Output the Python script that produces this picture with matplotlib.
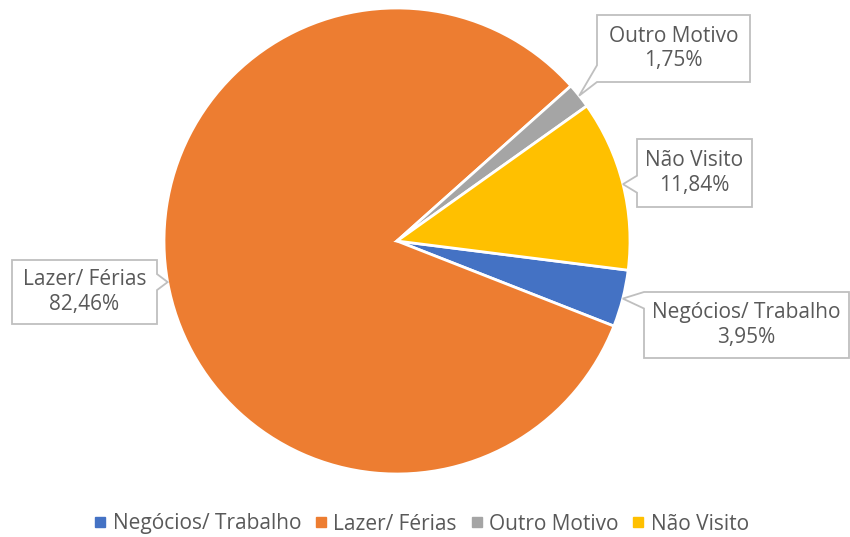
import matplotlib.pyplot as plt
import numpy as np
from matplotlib.patches import Polygon

plt.rcParams['font.family'] = ['Open Sans', 'DejaVu Sans']

categories = ["Negócios/ Trabalho", "Lazer/ Férias", "Outro Motivo", "Não Visito"]
shares = [3.95, 82.46, 1.75, 11.84]
colors = ["#4472C4", "#ED7D31", "#A5A5A5", "#FFC000"]
# callout boxes in pixels (x0, y0, x1, y1), y measured from the top
boxes = [(644, 292, 849, 358), (12, 260, 157, 324), (597, 15, 750, 82), (637, 139, 752, 207)]

W, H = 850, 537
fig = plt.figure(figsize=(W / 100, H / 100), dpi=100)
cx, cy, r = 397, 241, 233
ax = fig.add_axes([(cx - r) / W, (H - cy - r) / H, 2 * r / W, 2 * r / H])
start = -7.2
wedges, _ = ax.pie(shares, colors=colors, startangle=start, counterclock=False,
                   radius=1, wedgeprops=dict(edgecolor="white", linewidth=2))
ax.set_xlim(-1, 1)
ax.set_ylim(-1, 1)
ax.set_aspect("equal")
ax.axis("off")


def callout(box, tip, label):
    x0, y0, x1, y1 = box
    tx, ty = tip
    if tx < x0:
        side = "left"
    elif tx > x1:
        side = "right"
    elif ty > y1:
        side = "bottom"
    else:
        side = "top"
    if side in ("left", "right"):
        hw = 0.125 * (y1 - y0)
        c = min(max(ty, y0 + hw), y1 - hw)
        if side == "left":
            pts = [(x0, y0), (x1, y0), (x1, y1), (x0, y1), (x0, c + hw), (tx, ty), (x0, c - hw)]
        else:
            pts = [(x0, y0), (x1, y0), (x1, c - hw), (tx, ty), (x1, c + hw), (x1, y1), (x0, y1)]
    else:
        hw = 0.125 * (x1 - x0)
        c = min(max(tx, x0 + 0.29 * (x1 - x0)), x1 - 0.29 * (x1 - x0))
        if side == "bottom":
            pts = [(x0, y0), (x1, y0), (x1, y1), (c + hw, y1), (tx, ty), (c - hw, y1), (x0, y1)]
        else:
            pts = [(x0, y0), (c - hw, y0), (tx, ty), (c + hw, y0), (x1, y0), (x1, y1), (x0, y1)]
    pts = [(px / W, 1 - py / H) for px, py in pts]
    fig.add_artist(Polygon(pts, closed=True, transform=fig.transFigure,
                           facecolor="white", edgecolor="#BFBFBF", linewidth=1.3))
    fig.text((x0 + x1) / 2 / W, 1 - (y0 + y1) / 2 / H, label, ha="center", va="center",
             fontsize=15, color="#595959", linespacing=1.2)


for w, val, cat, box in zip(wedges, shares, categories, boxes):
    mid = np.deg2rad((w.theta1 + w.theta2) / 2)
    tip = (cx + r * np.cos(mid), cy - r * np.sin(mid))
    callout(box, tip, f"{cat}\n{val:.2f}%".replace(".", ","))

handles = [plt.Line2D([], [], marker="s", linestyle="", color=c, markersize=7) for c in colors]
fig.legend(handles, categories, loc="center", bbox_to_anchor=(0.494, 1 - 524 / H), ncol=4,
           frameon=False, fontsize=15, labelcolor="#595959", handletextpad=0.15,
           columnspacing=0.5, handlelength=0.9)

fig.savefig("out.png", dpi=100)
